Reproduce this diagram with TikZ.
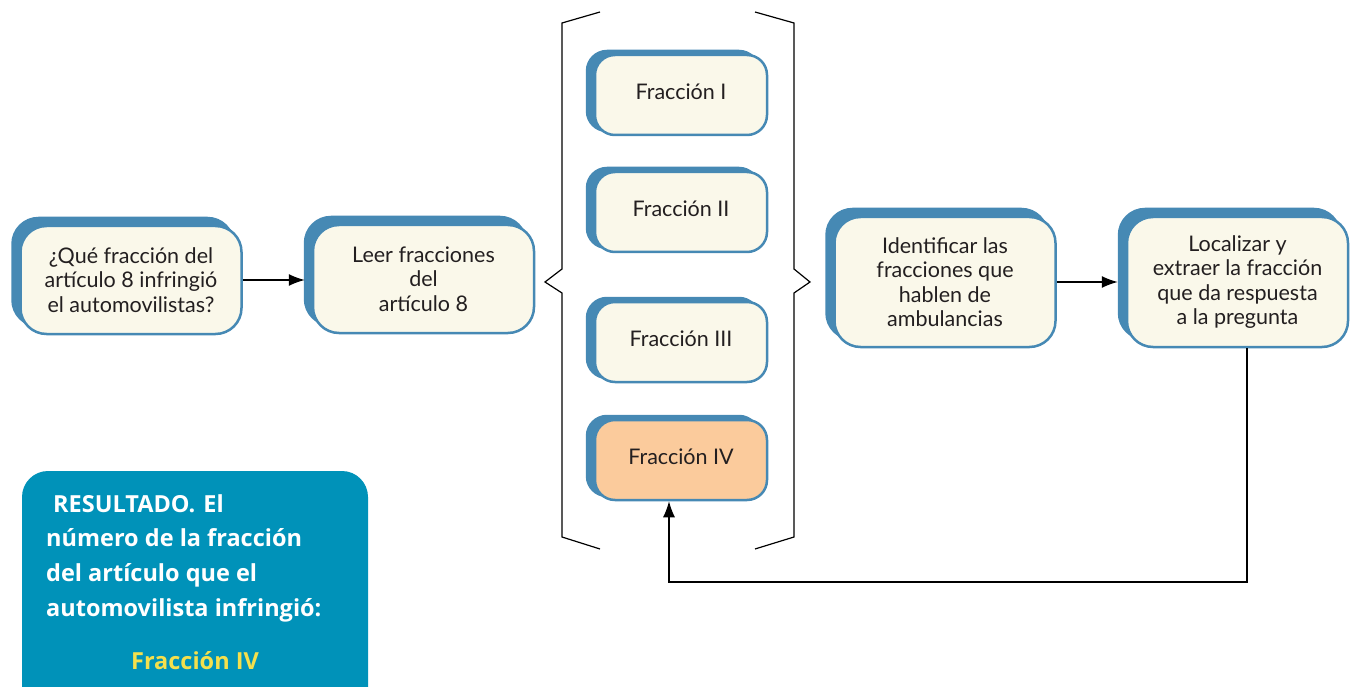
\documentclass[tikz,border=0pt]{standalone}
\usepackage{fontspec}
\setmainfont{Lato}
\newfontfamily\osans{Open Sans}
\usetikzlibrary{shadows,arrows.meta}
\definecolor{cream}{HTML}{FAF8EA}
\definecolor{bblue}{HTML}{4689B4}
\definecolor{orng}{HTML}{FBCB9C}
\definecolor{resblue}{HTML}{0092B9}
\definecolor{yel}{HTML}{F4E04D}
\definecolor{txt}{HTML}{231F20}
\begin{document}
\begin{tikzpicture}[x=1pt,y=-1pt,
  boxbase/.style={rectangle, draw=bblue, line width=2.5pt, fill=cream, text=txt,
    font=\fontsize{21.5}{24.5}\selectfont, align=center, inner sep=0pt},
  bigbox/.style={boxbase, rounded corners=26pt, minimum width=221pt,
    copy shadow={shadow xshift=-8pt, shadow yshift=8pt, fill=bblue, draw=bblue}},
  fracbox/.style={boxbase, rounded corners=20pt, minimum width=172pt, minimum height=80pt,
    copy shadow={shadow xshift=-8pt, shadow yshift=4pt, fill=bblue, draw=bblue}},
  arr/.style={-{Latex[length=16pt,width=12pt]}, line width=1.2pt, draw=black},
  brace/.style={line width=1.2pt, draw=black},
  restxt/.style={text=white, font=\osans\bfseries\fontsize{23.5}{34.8}\selectfont, align=left, inner sep=0pt}
]
\useasboundingbox (0,0) rectangle (1358,687);

% braces
\draw[brace] (600,12) -- (562,23) -- (562,269) -- (545,282) -- (562,293) -- (562,537) -- (600,549);
\draw[brace] (755,12) -- (794,23) -- (794,269) -- (810,282) -- (794,293) -- (794,537) -- (755,549);

% main boxes
\node[bigbox, minimum height=108pt] (q) at (131,280) {¿Qué fracción del\\artículo 8 infringió\\el automovilistas?};
\node[bigbox, minimum height=108pt] (leer) at (423.5,279) {Leer fracciones\\del\\artículo 8};
\node[bigbox, minimum height=130pt] (ident) at (945,282) {Identificar las\\fracciones que\\hablen de\\ambulancias};
\node[bigbox, minimum height=130pt] (loc) at (1237.5,282) {Localizar y\\extraer la fracción\\que da respuesta\\a la pregunta};

% fraction boxes
\node[fracbox] (f1) at (681,95) {\raisebox{7pt}{Fracción I}};
\node[fracbox] (f2) at (681,212) {\raisebox{7pt}{Fracción II}};
\node[fracbox] (f3) at (681,342) {\raisebox{7pt}{Fracción III}};
\node[fracbox, fill=orng] (f4) at (681,460) {\raisebox{7pt}{Fracción IV}};

% arrows
\draw[arr, shorten >=7pt] (q.east) -- (q.east -| leer.west);
\draw[arr, shorten >=8pt] (ident.east) -- (loc.west);
\coordinate (c1) at (1247,582);
\coordinate (c2) at (669,582);
\draw[arr] (c1 |- loc.south) -- (c1) -- (c2) -- (c2 |- f4.south);

% result box
\node[fill=resblue, rounded corners=26pt, minimum width=346pt, minimum height=250pt, inner sep=0pt] (res) at (195,596) {};
\node[restxt, anchor=north west] (restext) at (46,494) {\hspace{7pt}RESULTADO.\hspace{8pt}El\\número de la fracción\\del artículo que el\\automovilista infringió:};
\node[text=yel, font=\osans\bfseries\fontsize{23.5}{25}\selectfont, inner sep=0pt] (resval) at (195,661) {Fracción IV};
\end{tikzpicture}
\end{document}
